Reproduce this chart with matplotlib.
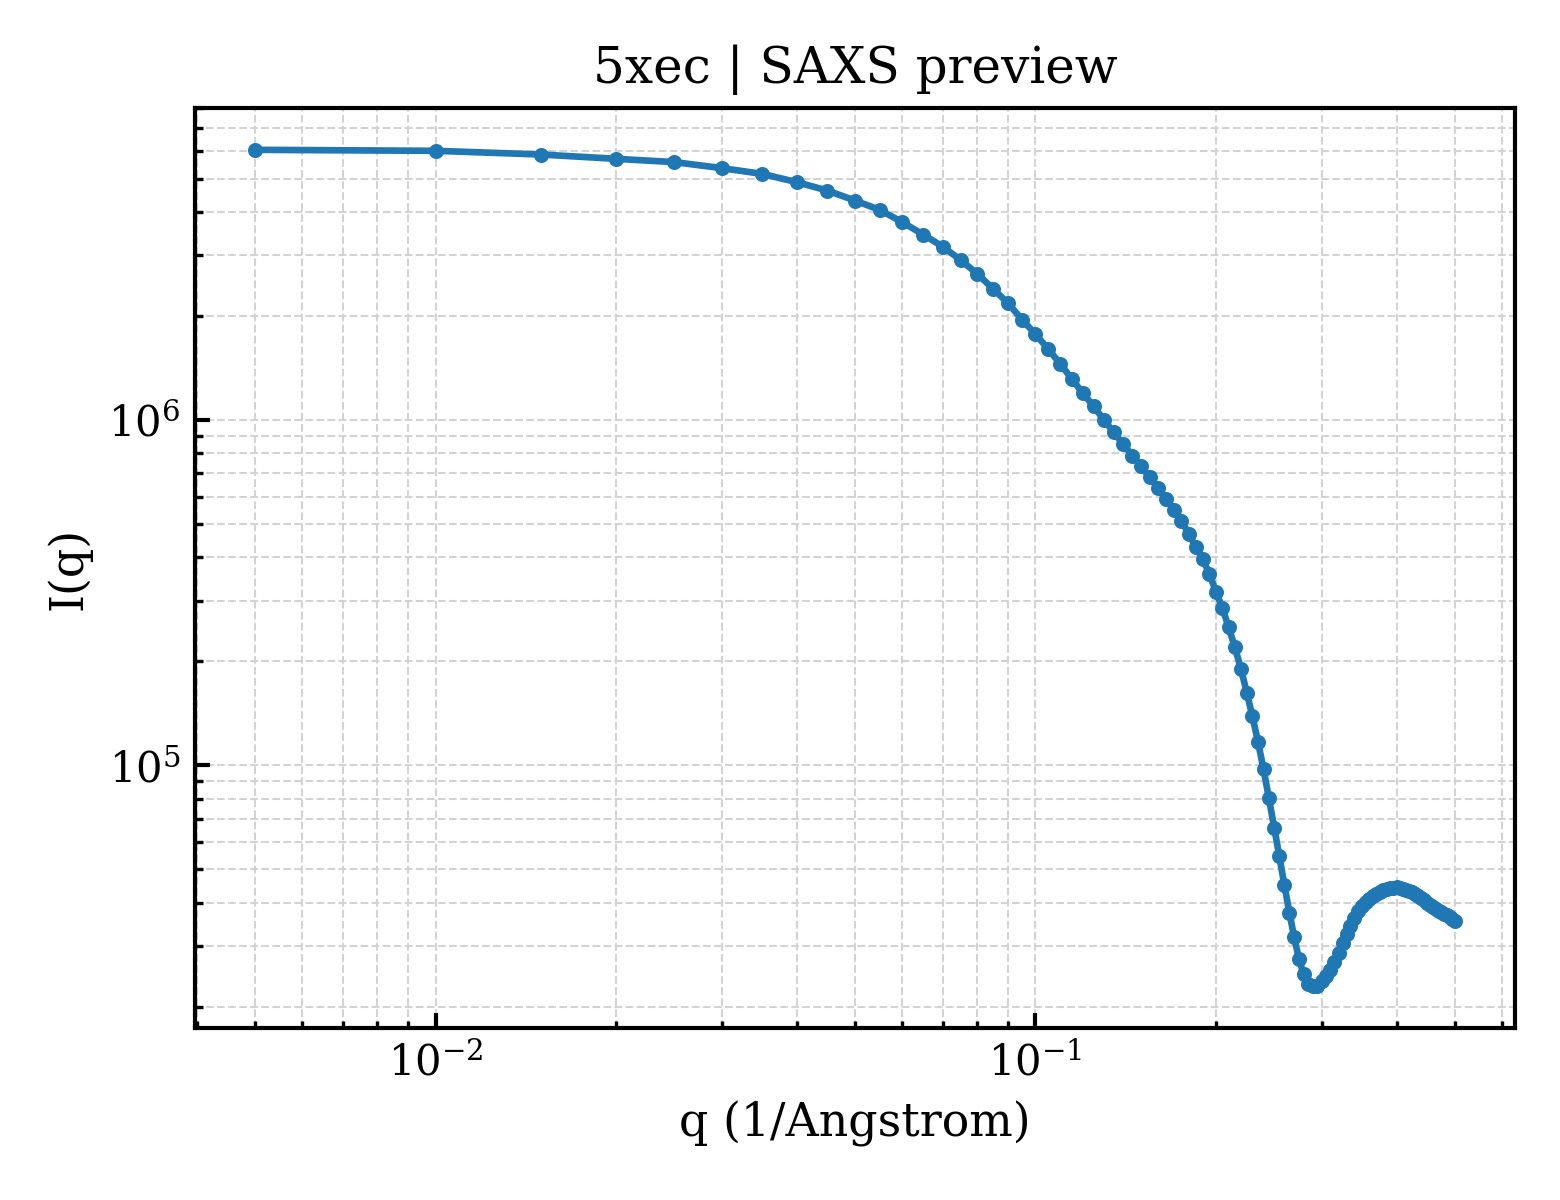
import matplotlib
matplotlib.use("Agg")
import matplotlib.pyplot as plt

plt.rcParams['font.family'] = ['DejaVu Serif']

title = "5xec | SAXS preview"
xlabel = "q (1/Angstrom)"
ylabel = "I(q)"

q_values = [0.005, 0.01, 0.015, 0.02, 0.025, 0.03, 0.035, 0.04, 0.045, 0.05,
            0.055, 0.06, 0.065, 0.07, 0.075, 0.08, 0.085, 0.09, 0.095, 0.1,
            0.105, 0.11, 0.115, 0.12, 0.125, 0.13, 0.135, 0.14, 0.145, 0.15,
            0.155, 0.16, 0.165, 0.17, 0.175, 0.18, 0.185, 0.19, 0.195, 0.2,
            0.205, 0.21, 0.215, 0.22, 0.225, 0.23, 0.235, 0.24, 0.245, 0.25,
            0.255, 0.26, 0.265, 0.27, 0.275, 0.28, 0.285, 0.29, 0.295, 0.3,
            0.305, 0.31, 0.315, 0.32, 0.325, 0.33, 0.335, 0.34, 0.345, 0.35,
            0.355, 0.36, 0.365, 0.37, 0.375, 0.38, 0.385, 0.39, 0.395, 0.4,
            0.405, 0.41, 0.415, 0.42, 0.425, 0.43, 0.435, 0.44, 0.445, 0.45,
            0.455, 0.46, 0.465, 0.47, 0.475, 0.48, 0.485, 0.49, 0.495, 0.5]

intensity = [6.062e6, 6.022e6, 5.875e6, 5.708e6, 5.585e6, 5.365e6, 5.164e6, 4.887e6, 4.620e6, 4.322e6,
             4.061e6, 3.741e6, 3.444e6, 3.180e6, 2.910e6, 2.650e6, 2.398e6, 2.179e6, 1.953e6, 1.772e6,
             1.606e6, 1.453e6, 1.315e6, 1.195e6, 1.096e6, 1.002e6, 9.21e5, 8.52e5, 7.89e5, 7.35e5,
             6.84e5, 6.37e5, 5.90e5, 5.50e5, 5.11e5, 4.69e5, 4.29e5, 3.955e5, 3.577e5, 3.179e5,
             2.845e5, 2.506e5, 2.194e5, 1.906e5, 1.624e5, 1.384e5, 1.166e5, 9.74e4, 8.01e4, 6.60e4,
             5.44e4, 4.49e4, 3.74e4, 3.17e4, 2.74e4, 2.48e4, 2.32e4, 2.29e4, 2.30e4, 2.37e4,
             2.445e4, 2.545e4, 2.685e4, 2.85e4, 3.05e4, 3.236e4, 3.415e4, 3.60e4, 3.773e4, 3.90e4,
             4.006e4, 4.087e4, 4.17e4, 4.24e4, 4.298e4, 4.342e4, 4.377e4, 4.40e4, 4.418e4, 4.424e4,
             4.415e4, 4.394e4, 4.365e4, 4.327e4, 4.284e4, 4.227e4, 4.171e4, 4.116e4, 4.061e4, 3.994e4,
             3.928e4, 3.876e4, 3.824e4, 3.786e4, 3.748e4, 3.711e4, 3.674e4, 3.625e4, 3.577e4, 3.529e4]

fig = plt.figure(figsize=(5.2, 4.0), dpi=300)
ax = fig.add_axes([0.125, 0.1433, 0.846, 0.7667])

ax.plot(q_values, intensity, '-o', color='#1f77b4', linewidth=1.6, markersize=2.6)
ax.set_xscale('log')
ax.set_yscale('log')

ax.set_title(title, fontsize=12)
ax.set_xlabel(xlabel, fontsize=11)
ax.set_ylabel(ylabel, fontsize=11)

ax.grid(True, which='both', linestyle='--', linewidth=0.5, color='#d3d3d3')
ax.set_axisbelow(True)
ax.tick_params(which='both', direction='in', labelsize=10)
ax.tick_params(which='major', length=3.5, width=1.0)
ax.tick_params(which='minor', length=1.8, width=0.8)
for s in ax.spines.values():
    s.set_linewidth(1.0)

fig.savefig('out.png', dpi=300)
